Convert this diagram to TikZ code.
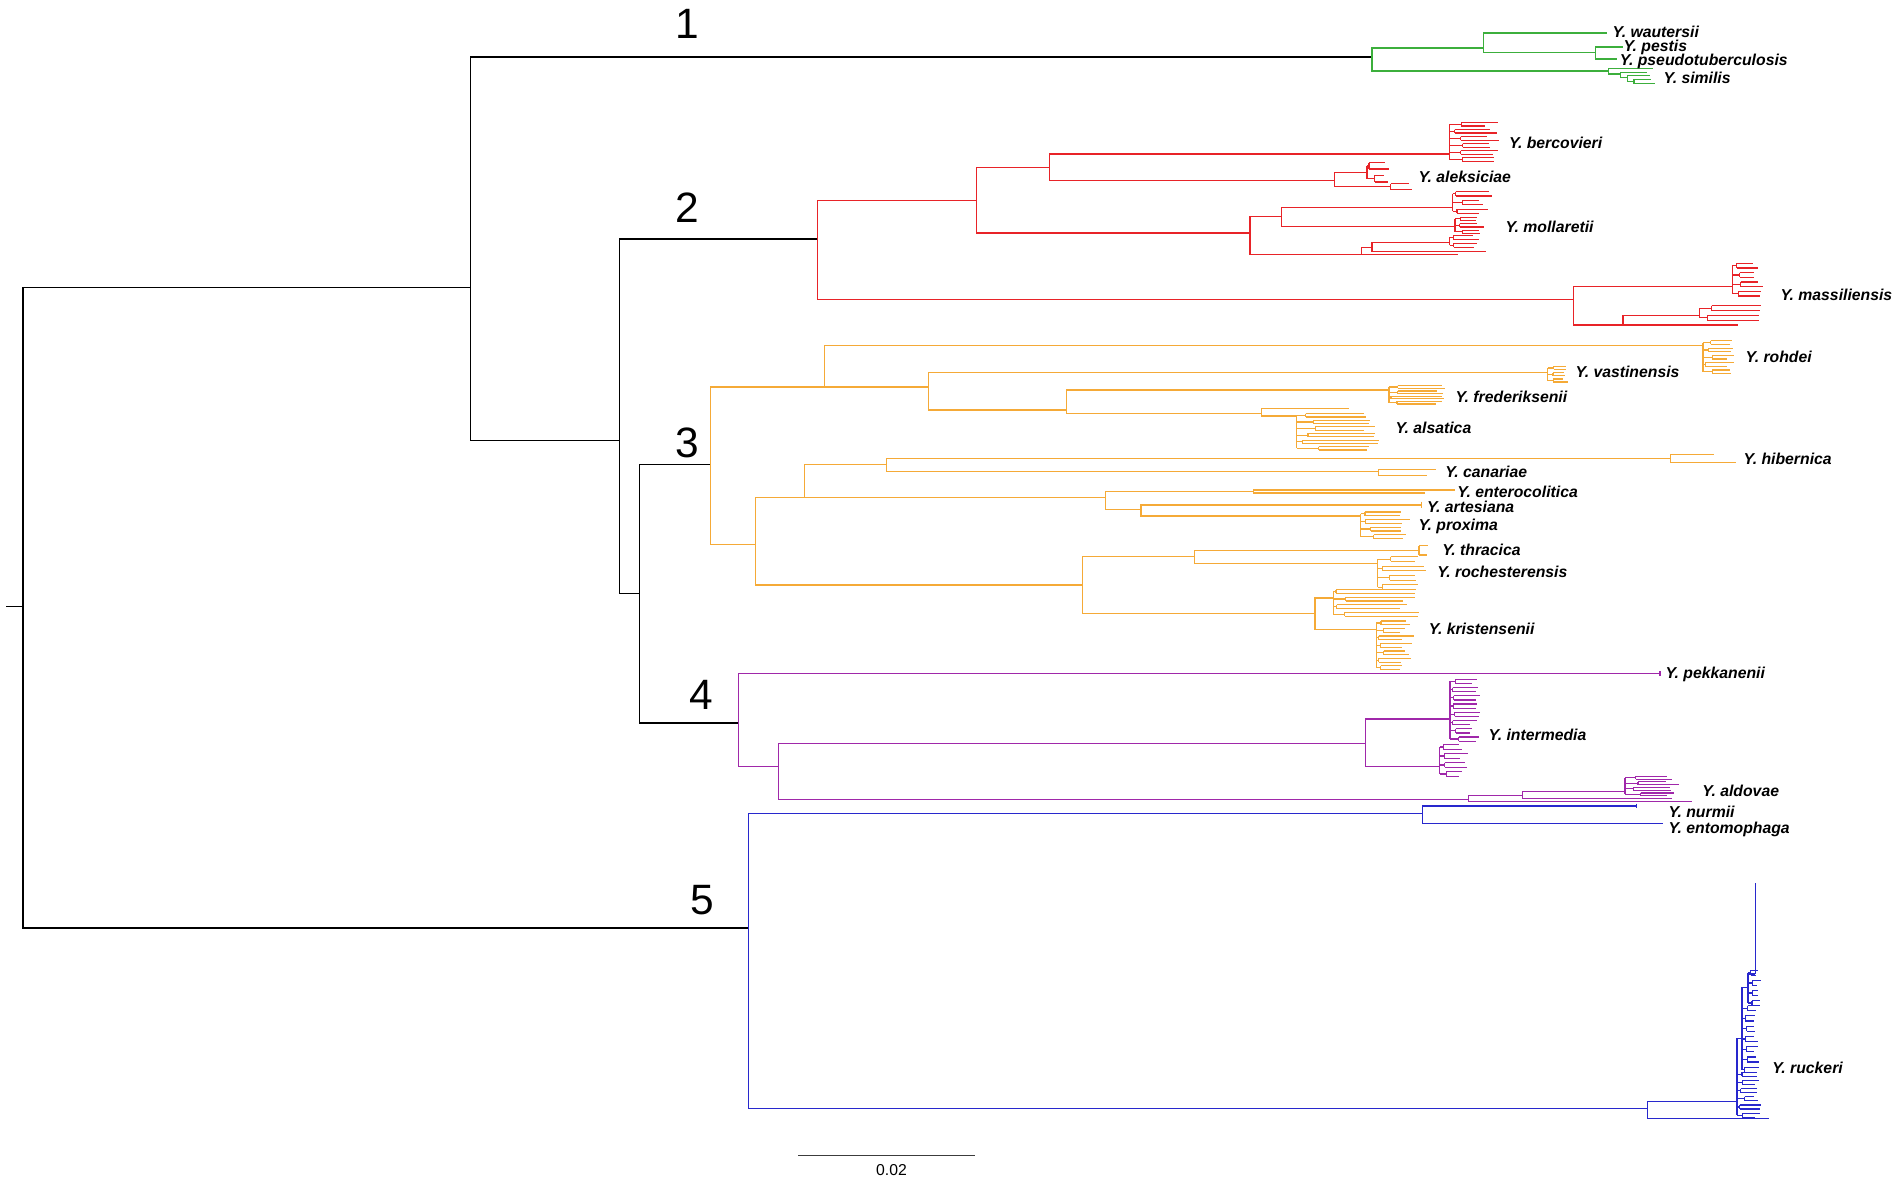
\documentclass[tikz,border=0pt]{standalone}
\usepackage{fontspec}
\setmainfont{Liberation Sans}
\definecolor{cgreen}{RGB}{60,175,60}
\definecolor{cred}{RGB}{232,35,40}
\definecolor{corange}{RGB}{245,170,55}
\definecolor{cpurple}{RGB}{160,40,170}
\definecolor{cblue}{RGB}{40,40,205}
\definecolor{cbar}{RGB}{60,60,60}
% tip cluster: x0, ytop, ybot, npairs, xend, spread
\newcommand\tipclus[6]{%
  \pgfmathsetmacro\cdy{(#3-#2)/(2*#4-1)}%
  \pgfmathsetmacro\cya{#2+0.5*\cdy}%
  \pgfmathsetmacro\cyb{#3-0.5*\cdy}%
  \draw (#1,\cya) -- (#1,\cyb);
  \foreach \k in {1,...,#4}{%
    \pgfmathsetmacro\ya{#2+(2*\k-2)*\cdy}%
    \pgfmathsetmacro\yb{\ya+\cdy}%
    \pgfmathsetmacro\ym{\ya+0.5*\cdy}%
    \pgfmathsetmacro\xm{#1+1.5+rnd*0.25*(#5-#1)}%
    \pgfmathsetmacro\ea{#5-rnd*#6}%
    \pgfmathsetmacro\eb{#5-rnd*#6}%
    \draw (#1,\ym) -- (\xm,\ym) (\xm,\ya) -- (\xm,\yb) (\xm,\ya) -- (\ea,\ya) (\xm,\yb) -- (\eb,\yb);
  }%
}
\tikzset{
  lab/.style={anchor=base west, inner sep=0pt, yshift=-4.6pt, font=\fontsize{13}{15}\selectfont\bfseries\itshape},
  num/.style={inner sep=0pt, font=\fontsize{35}{40}\selectfont},
}
\begin{document}
\begin{tikzpicture}[x=1pt,y=-1pt,line width=1pt]
\pgfmathsetseed{4711}
\useasboundingbox (0,0) rectangle (1568,974);
% ---------- backbone ----------
\coordinate (r0) at (5,500);
\coordinate (r) at (19,500);
\coordinate (nU) at (388,237);
\coordinate (c1) at (1131,47);
\coordinate (nL) at (511,363);
\coordinate (c2) at (674,197);
\coordinate (nL2) at (527,489);
\coordinate (c3) at (586,383);
\coordinate (c4) at (609,596);
\coordinate (c5) at (617,765);
\draw (r0) -- (r) (r) |- (nU) (r) |- (c5) (nU) |- (c1) (nU) |- (nL)
      (nL) |- (c2) (nL) |- (nL2) (nL2) |- (c3) (nL2) |- (c4);
% ---------- clade 1 ----------
\begin{scope}[color=cgreen]
\coordinate (g1) at (1223,39.6);
\coordinate (wau) at (1325,27.2);
\coordinate (gp) at (1315,43.5);
\coordinate (pes) at (1338,38.7);
\coordinate (pse) at (1333,48.6);
\coordinate (sim) at (1326,58.5);
\coordinate (s2) at (1336,61);
\coordinate (s3) at (1342,64);
\coordinate (s4) at (1347,67);
\draw (c1) |- (g1) (c1) |- (sim) (g1) |- (wau) (g1) |- (gp) (gp) |- (pes) (gp) |- (pse);
\draw (sim) |- (1363,56.3) (sim) |- (s2) (s2) |- (1358,59.5) (s2) |- (s3)
      (s3) |- (1360,62.5) (s3) |- (s4) (s4) |- (1361,65.5) (s4) |- (1364,69);
\end{scope}
% ---------- clade 2 ----------
\begin{scope}[color=cred]
\coordinate (r1) at (805,165);
\coordinate (r2) at (1297,247);
\coordinate (r11) at (865,138);
\coordinate (r12) at (1030.5,192);
\coordinate (ber) at (1195,127);
\coordinate (ale) at (1100,149);
\coordinate (ale1) at (1127,142.4);
\coordinate (ale2) at (1144.5,154);
\coordinate (r121) at (1056.6,178.6);
\coordinate (r122) at (1122.6,210);
\coordinate (m1) at (1197.6,171);
\coordinate (m2) at (1199.5,187);
\coordinate (m3) at (1131,204);
\coordinate (m4) at (1202,210);
\coordinate (m31) at (1195,200);
\coordinate (m32) at (1225,207.5);
\coordinate (mas) at (1428,236);
\coordinate (r22) at (1338,268);
\coordinate (r221) at (1401,260);
\coordinate (r222) at (1433,268);
\draw (c2) |- (r1) (c2) |- (r2) (r1) |- (r11) (r1) |- (r12) (r11) |- (ber) (r11) |- (ale)
      (ale) |- (ale1) (ale) |- (ale2) (r12) |- (r121) (r12) |- (r122) (r121) |- (m1) (r121) |- (m2)
      (r122) |- (m3) (r122) |- (m4) (m3) |- (m31) (m3) |- (m32) (r2) |- (mas) (r2) |- (r22)
      (r22) |- (r221) (r22) |- (r222);
\tipclus{1195}{101}{133}{6}{1236}{12}
\tipclus{1127}{134}{150}{2}{1147}{6}
\tipclus{1144.5}{151.5}{156.5}{1}{1164}{3}
\tipclus{1197.6}{158}{176}{3}{1231}{12}
\tipclus{1199.5}{179}{192.5}{3}{1226}{10}
\tipclus{1195}{194}{204}{2}{1222}{8}
\tipclus{1428}{217}{244}{4}{1455}{10}
\tipclus{1401}{252}{264}{2}{1455}{8}
\end{scope}
% ---------- clade 3 ----------
\begin{scope}[color=corange]
\coordinate (o1) at (680,319);
\coordinate (roh) at (1404,285);
\coordinate (o12) at (765.5,319);
\coordinate (vas) at (1276,307);
\coordinate (o122) at (879,338);
\coordinate (fre) at (1145,321.5);
\coordinate (als) at (1040,340.7);
\coordinate (als1) at (1112,337);
\coordinate (als2) at (1069,343);
\coordinate (o2) at (623,449);
\coordinate (o21) at (663,410);
\coordinate (o211) at (730.5,383);
\coordinate (hib) at (1377,378);
\coordinate (can) at (1136.5,389);
\coordinate (o212) at (911.5,410);
\coordinate (ent) at (1033.5,405);
\coordinate (o2122) at (940.7,420);
\coordinate (art) at (1172,416.3);
\coordinate (prox) at (1121.8,425.4);
\coordinate (o22) at (892.6,482.3);
\coordinate (o221) at (985,459);
\coordinate (thr) at (1165.7,453.75);
\coordinate (roc) at (1135.7,464.4);
\coordinate (kr) at (1084,505.6);
\coordinate (kr1) at (1099,493);
\coordinate (kr2) at (1134.5,519);
\draw (c3) |- (o1) (c3) |- (o2) (o1) |- (roh) (o1) |- (o12) (o12) |- (vas) (o12) |- (o122)
      (o122) |- (fre) (o122) |- (als) (als) |- (als1) (als) |- (als2)
      (o2) |- (o21) (o2) |- (o22) (o21) |- (o211) (o21) |- (o212) (o211) |- (hib) (o211) |- (can)
      (hib) |- (1413,374.5) (hib) |- (1431,381) (can) |- (1183.6,387) (can) |- (1176,392)
      (o212) |- (ent) (o212) |- (o2122) (ent) |- (1199.6,404) (ent) |- (1175,406.5)
      (o2122) |- (art) (o2122) |- (prox) (o22) |- (o221) (o22) |- (kr)
      (o221) |- (thr) (o221) |- (roc) (kr) |- (kr1) (kr) |- (kr2);
\draw (1172,413.5) -- (1172,419);
\tipclus{1404}{281}{308}{5}{1430}{8}
\tipclus{1276}{302}{315}{3}{1293}{5}
\tipclus{1145}{318}{333}{4}{1191}{8}
\tipclus{1069}{341}{371}{6}{1137}{14}
\tipclus{1121.8}{422}{444}{4}{1164}{10}
\tipclus{1165.7}{450}{457.5}{1}{1180}{4}
\tipclus{1135.7}{459}{486}{4}{1176}{10}
\tipclus{1099}{486}{508}{4}{1170}{18}
\tipclus{1134.5}{512}{552}{7}{1166}{12}
\end{scope}
% ---------- clade 4 ----------
\begin{scope}[color=cpurple]
\coordinate (pek) at (1368.5,555);
\coordinate (c42) at (642,632);
\coordinate (int) at (1126,612.8);
\coordinate (int1) at (1195.4,592.7);
\coordinate (int2) at (1187,632);
\coordinate (ald0) at (1210.5,659);
\coordinate (ald1) at (1255.3,655.5);
\coordinate (ald2) at (1339.7,652.8);
\coordinate (ald3) at (1394.6,661);
\coordinate (ald4) at (1378,658);
\draw (c4) |- (pek) (c4) |- (c42) (c42) |- (int) (c42) |- (ald0) (int) |- (int1) (int) |- (int2)
      (ald0) |- (ald1) (ald0) |- (ald3) (ald1) |- (ald2) (ald1) |- (ald4);
\draw (1368.5,553) -- (1368.5,557);
\tipclus{1195.4}{560}{611}{8}{1220}{8}
\tipclus{1187}{614}{640}{4}{1210}{8}
\tipclus{1339.7}{640}{656}{4}{1385}{12}
\end{scope}
% ---------- clade 5 ----------
\begin{scope}[color=cblue]
\coordinate (nu) at (1173,670.5);
\coordinate (nur) at (1349,664.5);
\coordinate (ento) at (1371,678.8);
\coordinate (ru) at (1358,914);
\coordinate (ru1) at (1432,908);
\coordinate (ru2) at (1458,922);
\draw (c5) |- (nu) (c5) |- (ru) (nu) |- (nur) (nu) |- (ento) (ru) |- (ru1) (ru) |- (ru2);
\draw (1349,662.5) -- (1349,666.5);
\tipclus{1432}{884}{921}{6}{1452}{6}
\draw (1432,886) |- (1436,856);
\tipclus{1436}{829}{884}{7}{1452}{8}
\draw (1436,831) |- (1441,814);
\tipclus{1441}{800}{829}{4}{1452}{6}
\draw (1441,803) -- (1447,803) (1447,728) -- (1447,803);
\end{scope}
% ---------- labels ----------
\node[lab] (lwau) at (1329,26.5) {Y. wautersii};
\node[lab] (lpes) at (1338,37.5) {Y. pestis};
\node[lab] (lpse) at (1335,49.8) {Y. pseudotuberculosis};
\node[lab] (lsim) at (1371,64.5) {Y. similis};
\node[lab] (lber) at (1243.5,118) {Y. bercovieri};
\node[lab] (lale) at (1169,145.7) {Y. aleksiciae};
\node[lab] (lmol) at (1240.7,186.9) {Y. mollaretii};
\node[lab] (lmas) at (1467.4,243) {Y. massiliensis};
\node[lab] (lroh) at (1438.6,294.5) {Y. rohdei};
\node[lab] (lvas) at (1298.5,307) {Y. vastinensis};
\node[lab] (lfre) at (1199.5,327) {Y. frederiksenii};
\node[lab] (lals) at (1150,353) {Y. alsatica};
\node[lab] (lhib) at (1437,378.4) {Y. hibernica};
\node[lab] (lcan) at (1191,389.4) {Y. canariae};
\node[lab] (lent) at (1201,405.3) {Y. enterocolitica};
\node[lab] (lart) at (1176,417.5) {Y. artesiana};
\node[lab] (lpro) at (1169,433) {Y. proxima};
\node[lab] (lthr) at (1188.5,453.4) {Y. thracica};
\node[lab] (lroc) at (1184.4,471.8) {Y. rochesterensis};
\node[lab] (lkri) at (1177.5,518.8) {Y. kristensenii};
\node[lab] (lpek) at (1372.6,555) {Y. pekkanenii};
\node[lab] (lint) at (1226.8,606) {Y. intermedia};
\node[lab] (lald) at (1403,651.8) {Y. aldovae};
\node[lab] (lnur) at (1375,669.5) {Y. nurmii};
\node[lab] (lento) at (1375,682.5) {Y. entomophaga};
\node[lab] (lruc) at (1460.6,880) {Y. ruckeri};
% ---------- clade numbers ----------
\node[num] (n1) at (567,20) {1};
\node[num] (n2) at (567,171) {2};
\node[num] (n3) at (567,365) {3};
\node[num] (n4) at (578,573) {4};
\node[num] (n5) at (579,742) {5};
% ---------- scale bar ----------
\coordinate (sb1) at (658,952.7);
\coordinate (sb2) at (803.8,952.7);
\draw[cbar, line width=1.1pt] (sb1) -- (sb2);
\node[inner sep=0pt, font=\fontsize{13}{15}\selectfont] (sbl) at (735,965) {0.02};
\end{tikzpicture}
\end{document}
